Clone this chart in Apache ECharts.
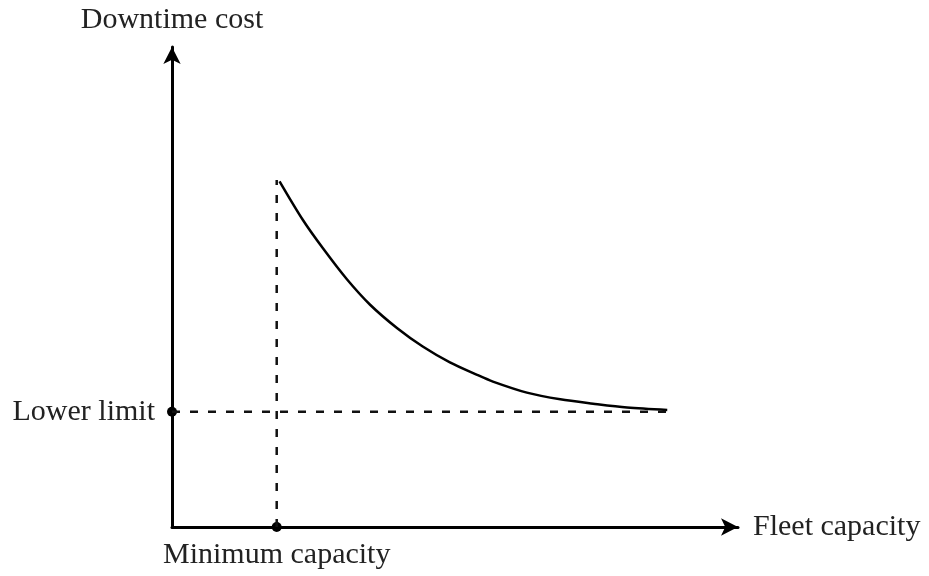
<!DOCTYPE html>
<html>
<head>
<meta charset="utf-8">
<script src="https://cdn.jsdelivr.net/npm/echarts@6/dist/echarts.min.js"></script>
<style>
  html, body { margin: 0; padding: 0; background: #fff; }
  #chart { width: 929px; height: 576px; }
</style>
</head>
<body>
<div id="chart"></div>
<script>
// values (axes run 0..100 in both directions)
const capacity = [19.0, 23.1, 26.7, 30.9, 35.0, 39.8, 44.3, 49.1, 53.9, 56.7, 62.7, 68.6, 74.4, 80.4, 87.5]
const downtimeCost = [72.0, 64.0, 58.0, 51.6, 46.3, 41.4, 37.6, 34.3, 31.7, 30.3, 28.0, 26.6, 25.7, 24.9, 24.4]
const lowerLimit = 24
const minCapacity = 18.5
const curveTop = 72.3
const curveEnd = 87.5

const serif = 'Liberation Serif'
const textColor = '#222'

const chart = echarts.init(document.getElementById('chart'))

const axisCommon = {
  type: 'value',
  min: 0,
  max: 100,
  splitLine: { show: false },
  axisTick: { show: false },
  axisLabel: { show: false },
  axisLine: {
    show: true,
    onZero: false,
    symbol: ['none', 'arrow'],
    symbolSize: [13, 17],
    lineStyle: { color: '#000', width: 3 }
  },
  nameLocation: 'end',
  nameTextStyle: { fontFamily: serif, fontSize: 30, color: textColor }
}

const dashed = { color: '#111', width: 2.5, type: [8, 10] }

const option = {
  animation: false,
  grid: { left: 172, right: 191, top: 47, bottom: 49 },
  xAxis: Object.assign({}, axisCommon, { name: 'Fleet capacity', nameGap: 15 }),
  yAxis: Object.assign({}, axisCommon, { name: 'Downtime cost', nameGap: 12 }),
  series: [
    {
      name: 'cost',
      type: 'line',
      data: capacity.map((x, i) => [x, downtimeCost[i]]),
      smooth: 0.3,
      symbol: 'none',
      clip: false,
      lineStyle: { color: '#000', width: 2.5 }
    },
    {
      name: 'lower',
      type: 'line',
      data: [[0, lowerLimit], [curveEnd, lowerLimit]],
      symbol: 'none',
      clip: false,
      lineStyle: dashed
    },
    {
      name: 'min',
      type: 'line',
      data: [[minCapacity, 0], [minCapacity, curveTop]],
      symbol: 'none',
      clip: false,
      lineStyle: dashed
    },
    {
      name: 'marks',
      type: 'scatter',
      symbolSize: 10,
      clip: false,
      itemStyle: { color: '#000', opacity: 1 },
      label: { show: true, fontFamily: serif, fontSize: 30, color: textColor },
      data: [
        { value: [0, lowerLimit], label: { formatter: 'Lower limit', position: 'left', distance: 12 } },
        { value: [minCapacity, 0], label: { formatter: 'Minimum capacity', position: 'bottom', distance: 8 } }
      ]
    }
  ]
}

chart.setOption(option)
window.addEventListener('resize', () => chart.resize())
</script>
</body>
</html>
